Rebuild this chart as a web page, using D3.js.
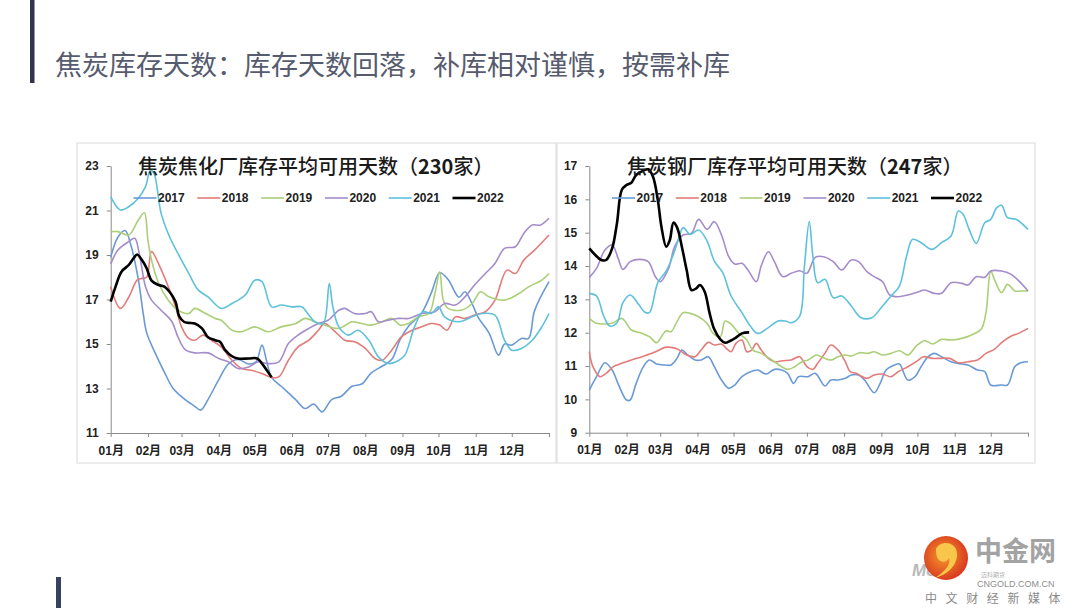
<!DOCTYPE html>
<html>
<head>
<meta charset="utf-8">
<script src="https://cdn.jsdelivr.net/npm/d3@7"></script>
<style>
  body { margin: 0; background: #fff; }
  svg { display: block; }
</style>
</head>
<body>
<svg id="page" width="1080" height="608"></svg>
<script>
// ---- data (x = day of year, y = days of inventory) ----
const years = ["2017", "2018", "2019", "2020", "2021", "2022"];
const yearColors = ["#6a9ad6", "#e27c7a", "#abcf78", "#a48ccb", "#5ec1dc", "#000000"];
const monthStarts = [0, 31, 59, 90, 120, 151, 181, 212, 243, 273, 304, 334];
const monthLabels = ["01月", "02月", "03月", "04月", "05月", "06月", "07月", "08月", "09月", "10月", "11月", "12月"];

const pageTitle = "焦炭库存天数：库存天数回落，补库相对谨慎，按需补库";

// 焦化厂 (230家)
const coke2017 = [[0,18.9],[6,19.8],[12,20.1],[17,19.4],[23,17.9],[27,16.4],[30,15.5],[37,14.6],[45,13.7],[52,13.0],[62,12.5],[70,12.2],[75,12.03],[81,12.5],[90,13.4],[98,14.1],[106,14.3],[115,14.1],[121,14.2],[126,14.95],[130,14.2],[134,13.5],[142,13.1],[154,12.5],[162,12.1],[169,12.3],[176,11.95],[184,12.5],[192,12.65],[201,13.1],[209,13.2],[217,13.7],[226,14.0],[234,14.3],[241,15.2],[248,15.8],[259,16.4],[267,17.3],[274,18.2],[281,17.9],[290,17.1],[295,17.35],[301,16.8],[306,16.2],[315,15.5],[323,14.5],[328,15.0],[334,14.95],[342,15.25],[348,15.25],[353,16.5],[365,17.8]];
const coke2018 = [[0,17.57],[8,16.6],[15,17.1],[22,17.87],[26,17.95],[30,18.0],[34,19.15],[41,18.47],[48,17.57],[54,16.67],[59,15.77],[65,15.25],[70,15.17],[77,15.4],[84,15.17],[92,14.87],[101,14.27],[109,13.9],[117,13.82],[126,13.67],[134,13.5],[140,13.52],[148,14.27],[156,14.87],[165,15.17],[173,15.62],[178,15.92],[187,15.55],[195,15.17],[203,15.1],[212,14.8],[220,14.35],[226,14.27],[234,14.72],[242,15.32],[251,15.62],[259,15.77],[267,15.92],[274,15.85],[280,15.62],[287,16.22],[295,16.15],[303,16.3],[312,16.45],[320,16.97],[330,18.32],[337,18.17],[344,18.77],[353,19.22],[365,19.9]];
const coke2019 = [[0,20.05],[6,20.05],[15,19.9],[23,20.57],[28,20.9],[31,19.67],[34,18.77],[40,17.72],[48,16.97],[56,16.52],[65,16.37],[70,16.6],[79,16.37],[87,16.15],[92,16.07],[101,15.62],[109,15.55],[120,15.77],[131,15.55],[142,15.77],[154,15.92],[162,16.15],[170,16.0],[178,15.85],[190,15.7],[201,16.0],[209,15.92],[217,15.85],[226,16.0],[234,16.15],[241,15.85],[248,15.92],[256,16.22],[265,16.37],[270,17.27],[274,18.25],[277,16.97],[281,16.6],[292,16.52],[301,16.82],[308,17.35],[315,17.12],[328,16.97],[340,17.27],[348,17.57],[359,17.87],[365,18.17]];
const coke2020 = [[0,18.6],[6,19.22],[15,19.6],[20,19.75],[24,19.0],[29,17.57],[34,16.97],[42,16.52],[51,16.0],[56,15.32],[62,14.75],[70,14.6],[81,14.6],[90,14.35],[98,14.2],[106,13.9],[115,13.97],[123,14.2],[131,14.12],[140,14.2],[148,15.02],[156,15.4],[165,15.7],[173,15.92],[181,16.07],[190,16.52],[195,16.6],[203,16.37],[212,16.37],[217,16.45],[223,16.0],[231,16.07],[240,16.15],[248,16.15],[259,16.37],[270,16.45],[278,16.82],[287,16.75],[295,17.12],[303,17.65],[312,18.17],[320,18.62],[328,19.3],[337,19.37],[344,19.97],[351,20.35],[358,20.35],[365,20.65]];
const coke2021 = [[0,21.62],[8,21.02],[15,21.17],[23,21.55],[29,22.07],[33,22.8],[36,22.67],[42,20.87],[49,19.82],[56,19.07],[65,18.17],[73,17.42],[81,17.12],[92,16.6],[101,16.82],[112,17.2],[120,17.87],[126,17.8],[134,16.67],[142,16.75],[151,16.67],[159,16.67],[165,16.3],[170,16.0],[177,15.92],[182,17.72],[185,16.67],[190,15.77],[198,15.4],[206,15.62],[215,15.17],[223,14.42],[231,14.12],[240,14.27],[245,14.5],[253,15.77],[260,16.45],[267,16.37],[273,16.67],[278,16.22],[290,16.0],[301,16.22],[309,16.37],[320,16.3],[328,15.17],[334,14.72],[342,14.8],[351,15.17],[359,15.77],[365,16.37]];
const coke2022 = [[0,16.9],[4,17.57],[9,18.25],[15,18.55],[19,18.85],[22,19.02],[26,18.77],[30,18.4],[34,17.85],[40,17.65],[45,17.57],[49,17.35],[54,16.9],[57,16.25],[61,16.0],[65,15.95],[70,15.92],[76,15.7],[81,15.3],[87,15.17],[91,15.1],[95,14.75],[101,14.45],[106,14.35],[115,14.35],[122,14.35],[126,14.12],[130,13.82],[134,13.5]];

// 钢厂 (247家)
const steel2017 = [[0,10.28],[6,10.68],[13,11.1],[19,10.88],[25,10.38],[31,9.98],[34,9.98],[39,10.48],[45,10.98],[50,11.18],[56,11.06],[63,11.03],[68,11.03],[73,11.23],[77,11.48],[82,11.33],[88,11.18],[93,11.18],[99,11.28],[104,10.98],[110,10.58],[116,10.33],[121,10.43],[127,10.68],[134,10.83],[140,10.88],[147,10.76],[154,10.9],[160,10.88],[165,10.78],[170,10.48],[174,10.68],[182,10.68],[188,10.78],[196,10.4],[201,10.58],[207,10.58],[213,10.63],[218,10.73],[224,10.73],[229,10.58],[237,10.2],[242,10.48],[247,10.88],[254,11.03],[258,11.06],[265,10.58],[271,10.68],[276,10.98],[282,11.28],[287,11.38],[293,11.28],[301,11.13],[310,11.06],[315,11.03],[323,10.88],[329,10.83],[334,10.43],[343,10.43],[348,10.43],[354,10.98],[359,11.1],[365,11.13]];
const steel2018 = [[0,11.43],[3,10.98],[9,10.68],[14,10.78],[20,10.98],[27,11.08],[35,11.18],[44,11.28],[52,11.38],[57,11.46],[63,11.56],[68,11.56],[74,11.5],[81,11.33],[88,11.28],[93,11.48],[99,11.71],[104,11.63],[110,11.66],[114,11.53],[118,11.43],[122,11.68],[127,11.78],[131,11.43],[135,11.48],[139,11.68],[143,11.48],[149,11.23],[154,11.13],[161,11.16],[168,11.18],[175,11.28],[181,10.98],[186,10.9],[190,11.08],[196,11.38],[201,11.63],[207,11.48],[213,11.13],[217,10.83],[222,10.78],[231,10.63],[237,10.73],[244,10.76],[251,10.68],[257,10.83],[265,10.98],[272,11.13],[278,11.28],[285,11.23],[293,11.23],[300,11.23],[307,11.1],[315,11.13],[323,11.18],[330,11.38],[337,11.5],[344,11.73],[350,11.88],[357,11.98],[365,12.13]];
const steel2019 = [[0,12.43],[6,12.28],[13,12.26],[20,12.3],[27,12.43],[30,12.33],[35,12.08],[44,11.98],[50,11.88],[56,11.7],[60,11.88],[64,12.06],[68,12.03],[73,12.33],[78,12.6],[84,12.58],[91,12.48],[98,12.28],[103,11.98],[109,11.88],[113,12.35],[118,12.26],[124,12.0],[131,11.78],[136,11.48],[143,11.38],[152,11.18],[160,10.98],[165,10.9],[171,10.98],[177,11.13],[182,11.18],[189,11.33],[193,11.28],[201,11.18],[207,11.28],[213,11.33],[218,11.3],[225,11.4],[232,11.38],[237,11.43],[244,11.33],[251,11.38],[258,11.46],[265,11.33],[272,11.6],[279,11.76],[286,11.66],[293,11.8],[301,11.78],[310,11.83],[318,11.93],[326,12.1],[330,12.6],[334,13.85],[337,13.6],[343,13.2],[348,13.45],[354,13.25],[359,13.25],[365,13.25]];
const steel2020 = [[0,13.66],[6,13.93],[13,14.48],[19,14.63],[24,14.23],[28,13.9],[34,14.13],[42,14.2],[49,14.13],[55,13.68],[59,13.53],[66,13.93],[71,14.58],[78,14.93],[85,14.98],[91,15.4],[98,15.1],[104,15.33],[110,14.93],[116,14.28],[121,14.06],[127,14.08],[132,13.88],[139,13.53],[143,14.0],[149,14.43],[154,14.13],[161,13.68],[168,13.78],[175,13.86],[181,13.78],[188,14.26],[195,14.28],[203,14.13],[210,13.88],[218,14.18],[224,14.13],[231,13.83],[237,13.68],[244,13.53],[250,13.13],[257,13.08],[265,13.13],[274,13.23],[279,13.28],[287,13.18],[293,13.18],[301,13.5],[310,13.48],[315,13.43],[322,13.68],[329,13.66],[334,13.85],[343,13.85],[351,13.75],[358,13.53],[365,13.25]];
const steel2021 = [[0,13.18],[6,13.1],[12,12.5],[17,12.2],[23,12.3],[28,12.9],[34,13.13],[41,12.85],[46,12.62],[50,12.6],[57,13.5],[64,13.85],[70,14.35],[75,14.9],[78,15.15],[84,14.95],[91,15.08],[98,14.75],[104,14.15],[111,13.8],[118,13.1],[127,12.6],[134,12.2],[140,11.98],[149,12.15],[157,12.35],[163,12.35],[168,12.3],[175,12.5],[179,14.0],[183,15.33],[186,14.3],[190,13.5],[196,13.6],[203,13.05],[210,13.1],[218,12.8],[226,12.45],[235,12.45],[244,12.8],[251,13.1],[258,13.4],[264,14.3],[269,14.8],[276,14.7],[285,14.5],[293,14.7],[301,14.9],[307,15.65],[311,15.55],[316,15.1],[322,14.68],[329,15.3],[334,15.4],[339,15.75],[343,15.82],[348,15.45],[355,15.4],[365,15.1]];
const steel2022 = [[0,14.53],[5,14.33],[10,14.18],[14,14.18],[19,14.53],[23,15.28],[27,16.28],[31,16.43],[35,16.5],[39,16.73],[45,16.86],[49,16.9],[53,16.68],[57,15.98],[60,15.18],[64,14.58],[67,14.78],[70,15.3],[73,15.16],[77,14.58],[81,13.88],[85,13.28],[89,13.33],[92,13.43],[96,13.23],[100,12.6],[104,12.1],[109,11.8],[113,11.7],[117,11.75],[122,11.85],[127,11.98],[133,12.01]];

const cokeSeries = [coke2017, coke2018, coke2019, coke2020, coke2021, coke2022];
const steelSeries = [steel2017, steel2018, steel2019, steel2020, steel2021, steel2022];

const cokeTicks = [11, 13, 15, 17, 19, 21, 23];
const steelTicks = [9, 10, 11, 12, 13, 14, 15, 16, 17];

// ---- page frame ----
const svg = d3.select("#page");

svg.append("rect").attr("x", 30).attr("y", 0).attr("width", 4.5).attr("height", 83).attr("fill", "#30344c");
svg.append("rect").attr("x", 56).attr("y", 577).attr("width", 5).attr("height", 31).attr("fill", "#3a4060");

svg.append("text")
  .attr("x", 55)
  .attr("y", 75)
  .text(pageTitle)
  .style("font-family", "'Noto Sans CJK SC', sans-serif")
  .style("font-size", "27px")
  .style("fill", "#565b6e");

// ---- one chart panel ----
function drawChart(cfg) {
  const g = svg.append("g");

  g.append("rect")
    .attr("x", cfg.box[0]).attr("y", cfg.box[1])
    .attr("width", cfg.box[2]).attr("height", cfg.box[3])
    .attr("fill", "#fff")
    .attr("stroke", "#d9d9d9")
    .attr("stroke-width", 1);

  const x = d3.scaleLinear().domain([0, 365]).range([cfg.left, cfg.right]);
  const y = d3.scaleLinear().domain(d3.extent(cfg.yTicks)).range([cfg.bottom, cfg.top]);

  // y axis
  const yAxis = g.append("g")
    .attr("transform", `translate(${cfg.left},0)`)
    .call(d3.axisLeft(y).tickValues(cfg.yTicks).tickSize(4).tickPadding(8).tickSizeOuter(0));

  // x axis
  const xAxis = g.append("g")
    .attr("transform", `translate(0,${cfg.bottom})`)
    .call(d3.axisBottom(x)
      .tickValues(monthStarts.concat([365]))
      .tickFormat((d, i) => monthLabels[i] || "")
      .tickSize(4).tickPadding(9).tickSizeOuter(0));

  [yAxis, xAxis].forEach((a) => {
    a.select(".domain").attr("stroke", "#8a8a8a");
    a.selectAll(".tick line").attr("stroke", "#8a8a8a");
    a.selectAll(".tick text")
      .style("font-family", "'Liberation Sans', Arial, sans-serif")
      .style("font-weight", "bold")
      .style("font-size", "12px")
      .style("fill", "#222");
  });
  xAxis.selectAll(".tick text")
    .style("font-family", "'Liberation Sans', 'Noto Sans CJK SC', sans-serif");

  // lines
  const line = d3.line()
    .x((d) => x(d[0]))
    .y((d) => y(d[1]))
    .curve(d3.curveCatmullRom.alpha(0.5));

  cfg.series.forEach((s, i) => {
    g.append("path")
      .datum(s)
      .attr("d", line)
      .attr("fill", "none")
      .attr("stroke", yearColors[i])
      .attr("stroke-width", i === 5 ? 2.6 : 1.6)
      .attr("stroke-linejoin", "round");
  });

  // title
  const title = g.append("text")
    .attr("x", cfg.titleX)
    .attr("y", 174)
    .style("font-family", "'Noto Sans CJK SC', sans-serif")
    .style("font-size", "20px")
    .style("fill", "#1a1a1a");
  title.append("tspan").style("font-weight", 500).text(cfg.title[0]);
  title.append("tspan").style("font-weight", 700).text(cfg.title[1]);
  title.append("tspan").style("font-weight", 500).text(cfg.title[2]);

  // legend
  const legend = g.append("g").attr("transform", `translate(${cfg.legendX},198)`);
  years.forEach((yr, i) => {
    const item = legend.append("g").attr("transform", `translate(${i * 63.8},0)`);
    item.append("line")
      .attr("x1", 0).attr("x2", 23)
      .attr("stroke", yearColors[i])
      .attr("stroke-width", i === 5 ? 2.6 : 1.6);
    item.append("text")
      .attr("x", 24.5)
      .attr("y", 4.3)
      .text(yr)
      .style("font-family", "'Liberation Sans', Arial, sans-serif")
      .style("font-weight", "bold")
      .style("font-size", "12px")
      .style("fill", "#222");
  });
}

drawChart({
  box: [77, 143, 479, 320],
  left: 110.7, right: 549, top: 166, bottom: 433,
  yTicks: cokeTicks,
  series: cokeSeries,
  title: ["焦炭焦化厂库存平均可用天数（", "230", "家）"],
  titleX: 138,
  legendX: 133.5,
});

drawChart({
  box: [557, 143, 478, 320],
  left: 589.3, right: 1028, top: 166, bottom: 432.7,
  yTicks: steelTicks,
  series: steelSeries,
  title: ["焦炭钢厂库存平均可用天数（", "247", "家）"],
  titleX: 627,
  legendX: 612,
});

// ---- watermark logo ----
const logo = svg.append("g");
const grad = svg.append("defs").append("radialGradient").attr("id", "logoGrad")
  .attr("cx", "45%").attr("cy", "45%").attr("r", "60%");
grad.append("stop").attr("offset", "0%").attr("stop-color", "#f39a2b");
grad.append("stop").attr("offset", "100%").attr("stop-color", "#d8321f");

logo.append("text")
  .attr("x", 912).attr("y", 576)
  .text("MoRe")
  .style("font-family", "'Liberation Sans', Arial, sans-serif")
  .style("font-weight", "bold")
  .style("font-style", "italic")
  .style("font-size", "17px")
  .style("fill", "#b9b9b9");
logo.append("circle").attr("cx", 946).attr("cy", 558).attr("r", 22).attr("fill", "url(#logoGrad)");
logo.append("path")
  .attr("d", "M936,549 C940,540 956,541 957,553 C958,565 947,575 935,578 C945,571 951,565 949,558 C947,563 939,563 937,557 C936,554 936,551 936,549 Z")
  .attr("fill", "#f7c64a");
logo.append("text")
  .attr("x", 975).attr("y", 561)
  .text("中金网")
  .style("font-family", "'Noto Sans CJK SC', sans-serif")
  .style("font-weight", "bold")
  .style("font-size", "27px")
  .style("fill", "#a3a3a3");
logo.append("text")
  .attr("x", 981).attr("y", 577)
  .text("迈科期货")
  .style("font-family", "'Noto Sans CJK SC', sans-serif")
  .style("font-size", "6px")
  .style("fill", "#b0b0b0");
logo.append("text")
  .attr("x", 977).attr("y", 587)
  .text("CNGOLD.COM.CN")
  .style("font-family", "'Liberation Sans', Arial, sans-serif")
  .style("font-size", "9px")
  .style("fill", "#8e8e8e");
logo.append("text")
  .attr("x", 925).attr("y", 602.5)
  .text("中文财经新媒体")
  .style("font-family", "'Noto Sans CJK SC', sans-serif")
  .style("font-size", "12px")
  .style("letter-spacing", "8.6px")
  .style("fill", "#8a8a8a");
</script>
</body>
</html>
